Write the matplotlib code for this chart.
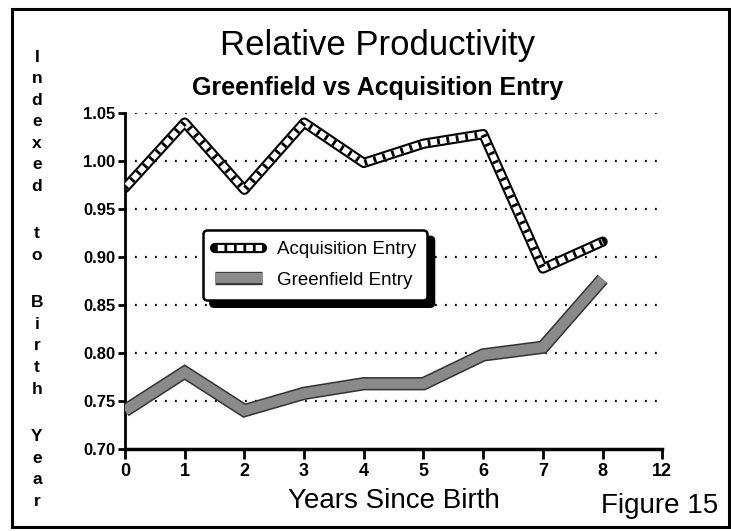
import matplotlib
matplotlib.use("Agg")
import matplotlib.pyplot as plt
from matplotlib.legend_handler import HandlerTuple

plt.rcParams['font.family'] = ['Liberation Sans', 'DejaVu Sans']

# data
years = ['0', '1', '2', '3', '4', '5', '6', '7', '8', '12']
acquisition = [0.972, 1.040, 0.970, 1.040, 0.998, 1.018, 1.028, 0.888, 0.916]
greenfield = [0.740, 0.780, 0.740, 0.758, 0.768, 0.768, 0.798, 0.806, 0.877]
yticks = [0.70, 0.75, 0.80, 0.85, 0.90, 0.95, 1.00, 1.05]
ylabel_words = ['Indexed', 'to', 'Birth', 'Year']


def main():
    fig = plt.figure(figsize=(7.31, 5.31), dpi=100)
    ax = fig.add_axes([0.171, 0.1544, 0.735, 0.6328])

    pos = list(range(len(years)))

    # dotted grid lines (none on the 0.70 baseline)
    for y in yticks[1:]:
        ax.axhline(y, color='black', lw=1.6, ls=(0, (0.8, 3.7)), zorder=1)

    # greenfield ribbon: dark outline, grey fill
    gx = pos[:len(greenfield)]
    g_out, = ax.plot(gx, greenfield, color='#333333', lw=9.6, zorder=3,
                     solid_joinstyle='miter', solid_capstyle='butt')
    g_in, = ax.plot(gx, greenfield, color='#8a8a8a', lw=7.4, zorder=3,
                    solid_joinstyle='miter', solid_capstyle='butt')

    # acquisition ribbon: black outline, white band with hatch marks
    acx = pos[:len(acquisition)]
    a_out, = ax.plot(acx, acquisition, color='black', lw=7.4, zorder=4,
                     solid_joinstyle='round', solid_capstyle='round')
    a_in, = ax.plot(acx, acquisition, color='white', lw=4.4, zorder=4,
                    solid_joinstyle='round', solid_capstyle='butt')
    a_hatch, = ax.plot(acx, acquisition, color='black', lw=4.4, zorder=4,
                       ls=(0, (0.45, 1.1)), dash_capstyle='butt')

    ax.set_xlim(0, 9)
    ax.set_ylim(0.70, 1.05)
    ax.set_xticks(pos)
    ax.set_xticklabels(years)
    ax.set_yticks(yticks)
    ax.set_yticklabels(['%.2f' % v for v in yticks])
    ax.tick_params(axis='y', labelsize=12, width=2, length=5,
                   direction='out', pad=2)
    ax.tick_params(axis='x', labelsize=13, width=2, length=7,
                   direction='out', pad=3)
    for lab in ax.get_xticklabels() + ax.get_yticklabels():
        lab.set_fontweight('bold')
    ax.spines['top'].set_visible(False)
    ax.spines['right'].set_visible(False)
    ax.spines['left'].set_linewidth(2)
    ax.spines['bottom'].set_linewidth(2.5)
    ax.patch.set_alpha(0)

    ax.set_xlabel('Years Since Birth', fontsize=20, labelpad=6)

    leg = ax.legend([(a_out, a_in, a_hatch), (g_out, g_in)],
                    ['Acquisition Entry', 'Greenfield Entry'],
                    handler_map={tuple: HandlerTuple(ndivide=1, pad=0)},
                    loc='upper left', bbox_to_anchor=(0.146, 0.652),
                    borderaxespad=0, fontsize=13.5, frameon=True,
                    fancybox=True,
                    shadow={'color': 'black', 'alpha': 1.0, 'ox': 5,
                            'oy': -5},
                    handlelength=2.5, handletextpad=0.8, borderpad=0.6,
                    labelspacing=0.7, edgecolor='black', framealpha=1)
    leg.get_frame().set_linewidth(1.8)
    leg.set_zorder(6)

    fig.text(0.516, 0.915, 'Relative Productivity', ha='center',
             va='center', fontsize=25)
    fig.text(0.516, 0.834, 'Greenfield vs Acquisition Entry', ha='center',
             va='center', fontsize=18, fontweight='bold')
    fig.text(0.903, 0.048, 'Figure 15', ha='center', va='center',
             fontsize=20)

    # stacked vertical y label, one letter per row, wider gap between words
    step, word_gap = 21.6, 47.3
    yy = 57
    for w, word in enumerate(ylabel_words):
        if w > 0:
            yy += word_gap - step
        for ch in word:
            fig.text(37 / 731, 1 - yy / 531, ch, ha='center', va='center',
                     fontsize=12.5, fontweight='bold')
            yy += step

    # page border
    fig.add_artist(plt.Rectangle((12 / 731, 4 / 531), 717 / 731, 518 / 531,
                                 transform=fig.transFigure, fill=False,
                                 lw=2.2, edgecolor='black'))

    fig.savefig('out.png', dpi=100)
    plt.close('all')


if __name__ == '__main__':
    main()
